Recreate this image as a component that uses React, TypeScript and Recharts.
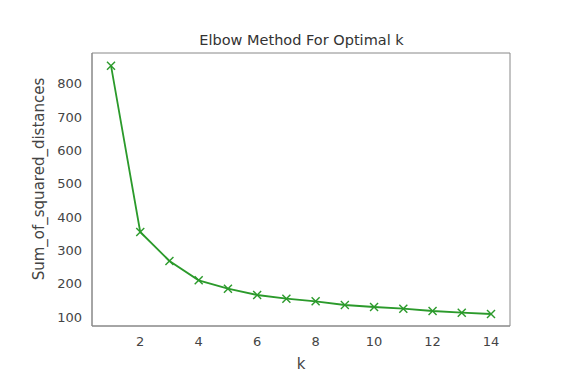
import React from 'react';
import { LineChart, Line, XAxis, YAxis, Label, ReferenceArea } from 'recharts';

const kValues = [1, 2, 3, 4, 5, 6, 7, 8, 9, 10, 11, 12, 13, 14];
const sumSquaredDistances = [854, 355, 268, 210, 185, 166, 155, 147, 136, 130, 125, 118, 113, 109];
const xTicks = [2, 4, 6, 8, 10, 12, 14];
const yTicks = [100, 200, 300, 400, 500, 600, 700, 800];

const data = kValues.map((k, i) => ({ k, ssd: sumSquaredDistances[i] }));

const GREEN = '#2b9a2b';
const SPINE = '#888888';
const TEXT = '#444444';
const FONT = '"DejaVu Sans", sans-serif';
const X_DOMAIN = [0.35, 14.65];
const Y_DOMAIN = [73, 892];

const CrossDot = (props: { cx?: number; cy?: number; index?: number }) => {
  const { cx, cy, index } = props;
  if (cx == null || cy == null) return null;
  const s = 4;
  return (
    <g key={index}>
      <line x1={cx - s} y1={cy - s} x2={cx + s} y2={cy + s} stroke={GREEN} strokeWidth={1.4} />
      <line x1={cx - s} y1={cy + s} x2={cx + s} y2={cy - s} stroke={GREEN} strokeWidth={1.4} />
    </g>
  );
};

export default function App() {
  const tick = { fill: TEXT, fontSize: 13, fontFamily: FONT };
  return (
    <div style={{ position: 'absolute', left: 0, top: 0, width: 574, height: 385, background: '#fff' }}>
      <div
        style={{
          position: 'absolute',
          left: 0,
          width: 603,
          top: 32,
          textAlign: 'center',
          fontFamily: FONT,
          fontSize: 14.5,
          color: '#333',
          lineHeight: '17px',
          whiteSpace: 'nowrap',
        }}
      >
        Elbow Method For Optimal k
      </div>
      <div
        style={{
          position: 'absolute',
          left: 38.5 - 120,
          top: 178.5 - 10,
          width: 240,
          height: 20,
          lineHeight: '20px',
          textAlign: 'center',
          fontFamily: FONT,
          fontSize: 15,
          color: TEXT,
          transform: 'rotate(-90deg)',
          whiteSpace: 'nowrap',
        }}
      >
        Sum_of_squared_distances
      </div>
      <LineChart
        width={574}
        height={385}
        data={data}
        margin={{ top: 53, right: 64, left: 32, bottom: 29 }}
      >
        <XAxis
          dataKey="k"
          type="number"
          domain={X_DOMAIN}
          ticks={xTicks}
          allowDataOverflow
          tick={tick}
          tickLine={false}
          tickSize={0}
          tickMargin={11}
          height={30}
          axisLine={{ stroke: SPINE }}
        >
          <Label
            value="k"
            position="insideBottom"
            offset={-13}
            style={{ fill: TEXT, fontSize: 15, fontFamily: FONT }}
          />
        </XAxis>
        <YAxis
          type="number"
          domain={Y_DOMAIN}
          ticks={yTicks}
          allowDataOverflow
          tick={tick}
          tickLine={false}
          tickSize={0}
          tickMargin={10}
          width={60}
          axisLine={{ stroke: SPINE }}
        />
        <ReferenceArea
          x1={X_DOMAIN[0]}
          x2={X_DOMAIN[1]}
          y1={Y_DOMAIN[0]}
          y2={Y_DOMAIN[1]}
          fill="none"
          stroke={SPINE}
          strokeWidth={1}
          ifOverflow="visible"
        />
        <Line
          dataKey="ssd"
          type="linear"
          stroke={GREEN}
          strokeWidth={1.8}
          dot={<CrossDot />}
          activeDot={false}
          isAnimationActive={false}
        />
      </LineChart>
    </div>
  );
}
